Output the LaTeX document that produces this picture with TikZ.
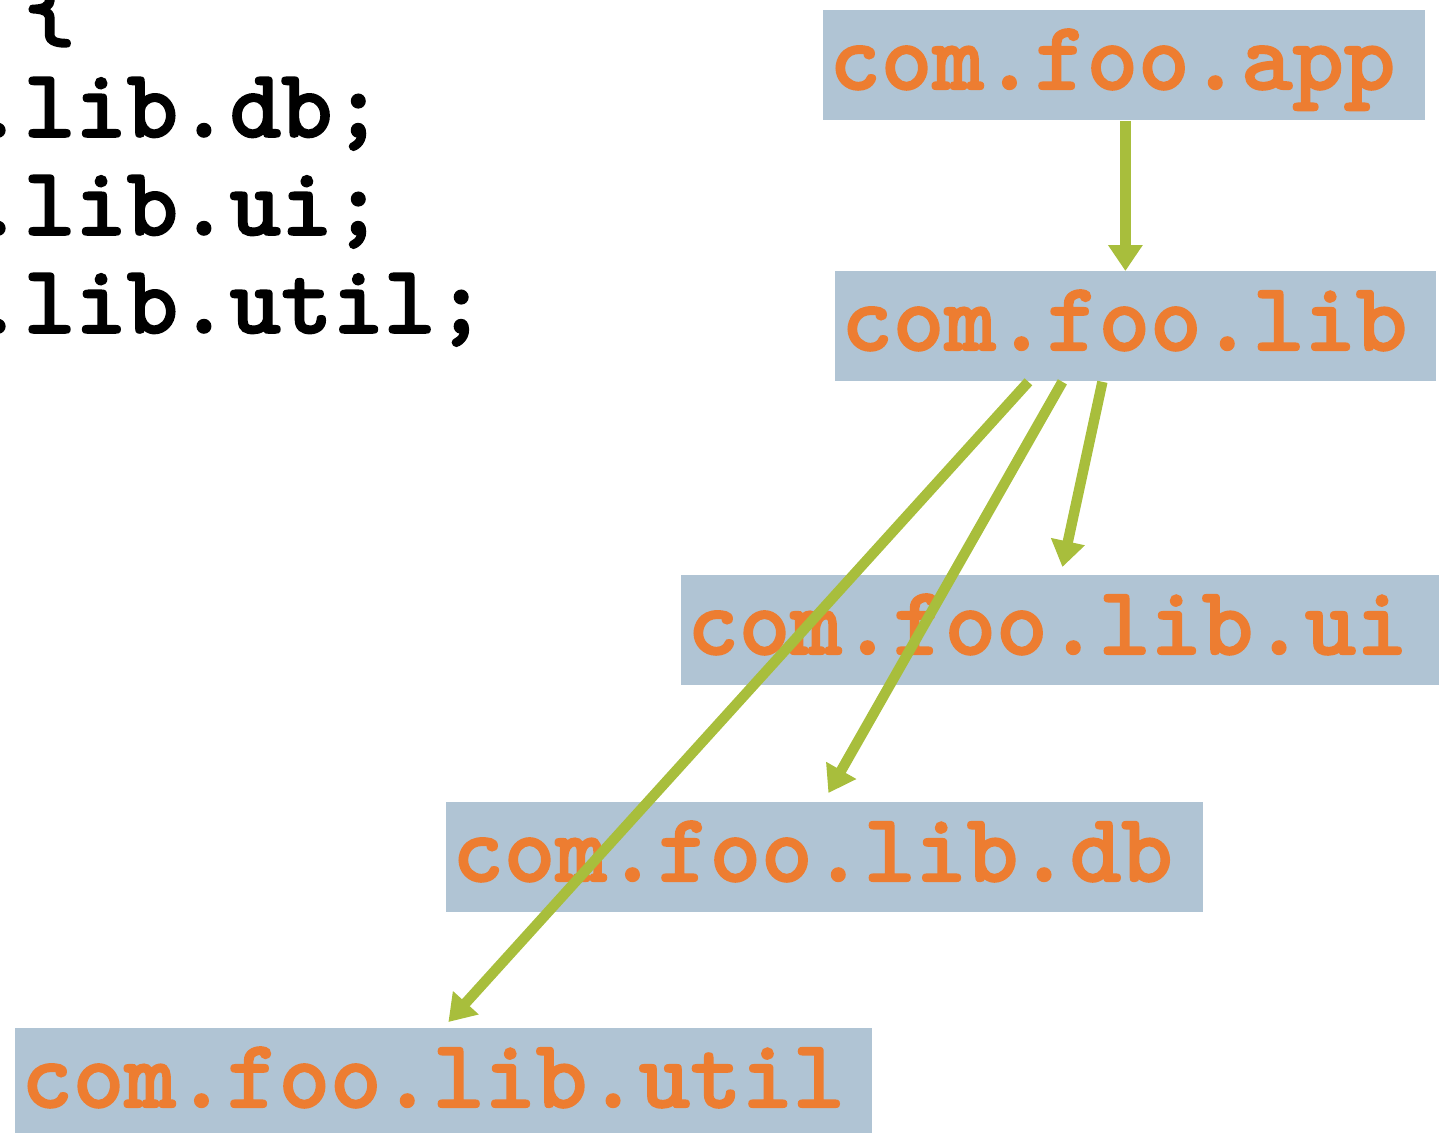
\documentclass[tikz,border=0pt]{standalone}
\usepackage{fontspec}
\newfontfamily\codefont{lmmonolt10-bold.otf}[FakeBold=1.6]
\usetikzlibrary{arrows.meta}
\definecolor{boxblue}{HTML}{B0C4D4}
\definecolor{pkgorange}{HTML}{ED7D31}
\definecolor{arrowgreen}{HTML}{A8BE3C}
\newcommand\pkgfont{\codefont\fontsize{49}{49}\selectfont}
\tikzset{
  pkg/.style={fill=boxblue, text=pkgorange, anchor=north west, inner xsep=3pt, inner ysep=0pt,
    align=left, text height=39.5pt, text depth=15.5pt, font=\pkgfont},
  codeline/.style={anchor=base west, inner sep=0pt, text=black, font=\pkgfont},
  dep/.style={draw=arrowgreen, line width=5.2pt, -{Triangle[length=13pt,width=16.5pt]}},
}
\begin{document}
\begin{tikzpicture}[x=0.5pt,y=-0.5pt]
\useasboundingbox (0,0) rectangle (1452,1132);
\clip (0,0) rectangle (1452,1132);
% code fragment
\node[codeline] (brace) at (23.6,39) {\{};
\node[codeline] (ldb) at (-28,137) {.lib.db;};
\node[codeline] (lui) at (-28,235) {.lib.ui;};
\node[codeline] (lutil) at (-28,333) {.lib.util;};
% package boxes
\node[pkg, text width=295pt] (app) at (823,10) {com.foo.app};
\node[pkg, text width=294.5pt] (lib) at (835,271) {com.foo.lib};
\node[pkg, text width=373pt] (ui) at (681,575) {com.foo.lib.ui};
\node[pkg, text width=372.5pt] (db) at (446,802) {com.foo.lib.db};
\node[pkg, text width=422.5pt] (util) at (15,1028) {com.foo.lib.util};
% dependencies
\draw[dep] ([xshift=0.5pt]app.south) -- ([xshift=-5.25pt]lib.north);
\draw[dep] ([xshift=-16.75pt]lib.south) -- ([xshift=1pt,yshift=4pt]ui.north);
\draw[dep] ([xshift=-36.75pt]lib.south) -- ([xshift=1.75pt,yshift=4.5pt]db.north);
\draw[dep] ([xshift=-53.75pt]lib.south) -- ([xshift=2.25pt,yshift=3pt]util.north);
\end{tikzpicture}
\end{document}
